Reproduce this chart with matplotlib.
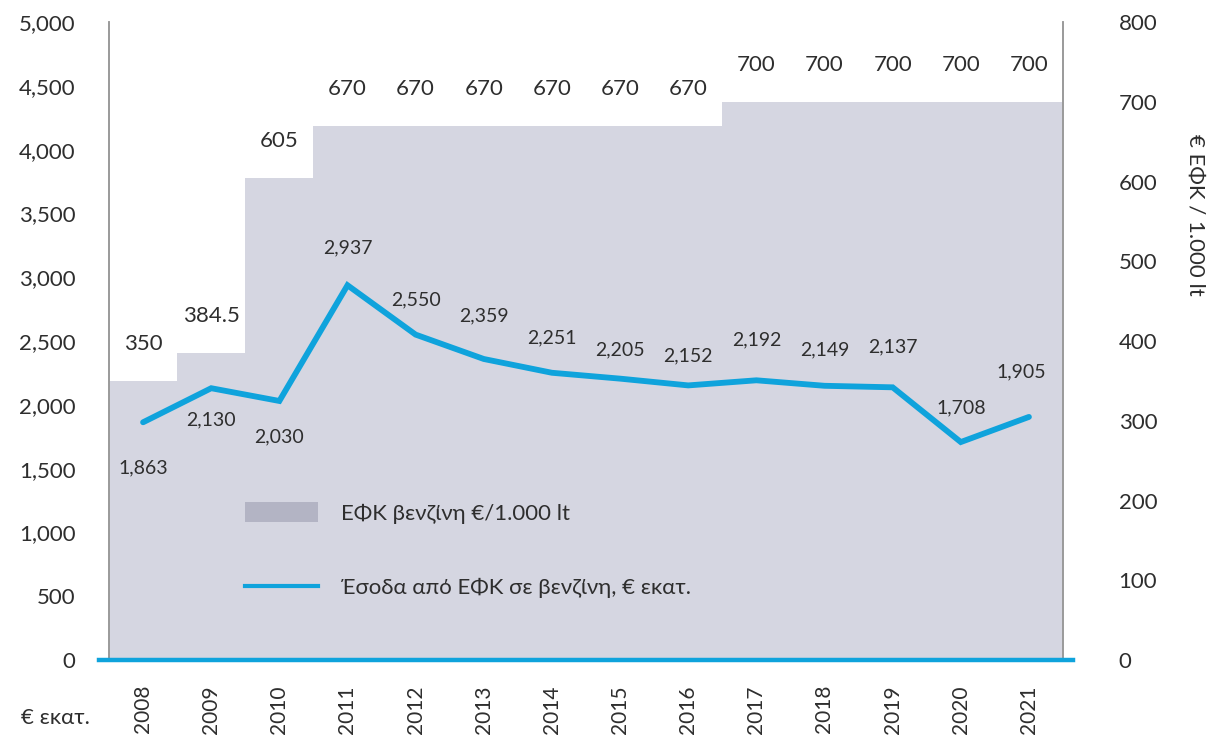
import matplotlib
matplotlib.use("Agg")
import matplotlib.pyplot as plt
from matplotlib.patches import Patch
from matplotlib.lines import Line2D

plt.rcParams['font.family'] = ['Lato', 'DejaVu Sans']

years = ['2008', '2009', '2010', '2011', '2012', '2013', '2014',
         '2015', '2016', '2017', '2018', '2019', '2020', '2021']
efk_rate = [350, 384.5, 605, 670, 670, 670, 670, 670, 670, 700, 700, 700, 700, 700]
efk_rate_lbl = ['350', '384.5', '605', '670', '670', '670', '670', '670', '670',
                '700', '700', '700', '700', '700']
revenue = [1863, 2130, 2030, 2937, 2550, 2359, 2251, 2205, 2152, 2192, 2149, 2137, 1708, 1905]

# offsets (pixels) for the revenue labels
rev_dy = [-46, -32, -36, 37, 35, 43, 35, 29, 30, 40, 36, 40, 34, 45]
rev_dx = [0, 0, 0, 0, 0, 0, 0, 0, 0, 0, 0, 0, 0, -8]

txt = '#2e2e2e'
blue = '#0fa3dc'
area = '#d5d6e1'

fig = plt.figure(figsize=(12.27, 7.45), dpi=100)
ax = fig.add_axes([109 / 1227, 1 - 660 / 745, (1063 - 109) / 1227, (660 - 22) / 745])
ax2 = ax.twinx()

x = list(range(len(years)))

# excise rate as touching bars on the right axis
ax2.bar(x, efk_rate, width=1.0, color=area, linewidth=0)
ax2.set_ylim(0, 800)
ax2.set_yticks(range(0, 801, 100))
for xi, v, s in zip(x, efk_rate, efk_rate_lbl):
    ax2.annotate(s, (xi, v), xytext=(0, 37), textcoords='offset pixels',
                 ha='center', va='center', fontsize=16, color=txt)

# revenue line on top
ax.set_zorder(ax2.get_zorder() + 1)
ax.patch.set_visible(False)
ax.plot(x, revenue, color=blue, lw=4.2, solid_joinstyle='miter',
        solid_capstyle='round', zorder=3)
for xi, v, dx, dy in zip(x, revenue, rev_dx, rev_dy):
    ax.annotate(f'{v:,}', (xi, v), xytext=(dx, dy), textcoords='offset pixels',
                ha='center', va='center', fontsize=14, color=txt)

ax.set_xlim(-0.5, len(years) - 0.5)
ax.set_ylim(0, 5000)
ax.set_yticks(range(0, 5001, 500))
ax.set_yticklabels([f'{v:,}' for v in range(0, 5001, 500)])
ax.set_xticks(x)
ax.set_xticklabels(years, rotation=90, va='top', ha='center')

ax.tick_params(axis='y', length=0, pad=24, labelsize=16, labelcolor=txt)
ax.tick_params(axis='x', length=0, pad=18, labelsize=15, labelcolor=txt)
ax2.tick_params(axis='y', length=0, pad=40, labelsize=16, labelcolor=txt)

for a in (ax, ax2):
    for side in ('top', 'bottom'):
        a.spines[side].set_visible(False)
    a.spines['left'].set_color('#9a9a9a')
    a.spines['right'].set_color('#9a9a9a')
    a.spines['left'].set_linewidth(1.2)
    a.spines['right'].set_linewidth(1.2)

# blue base line, a bit wider than the plot area
ax.add_line(Line2D([-0.01, 1.01], [0, 0], transform=ax.transAxes, color=blue,
                   lw=3.2, clip_on=False, zorder=5))

handles = [Patch(facecolor='#b3b4c4', edgecolor='none'),
           Line2D([], [], color=blue, lw=3)]
labels = ['ΕΦΚ βενζίνη €/1.000 lt', 'Έσοδα από ΕΦΚ σε βενζίνη, € εκατ.']
leg = ax.legend(handles, labels, loc='upper left',
                bbox_to_anchor=(245 / 1227, 1 - 502 / 745), bbox_transform=fig.transFigure,
                frameon=False, fontsize=16, handlelength=3.3, handleheight=1.0,
                handletextpad=1.0, labelspacing=2.4, borderpad=0, borderaxespad=0)
for t in leg.get_texts():
    t.set_color(txt)

fig.text(55 / 1227, 1 - 718 / 745, '€ εκατ.', ha='center', va='center',
         fontsize=16, color=txt)
fig.text(1195 / 1227, 1 - 215 / 745, '€ ΕΦΚ / 1.000 lt', ha='center', va='center',
         rotation=270, fontsize=16, color=txt)

fig.savefig('out.png', dpi=100)
